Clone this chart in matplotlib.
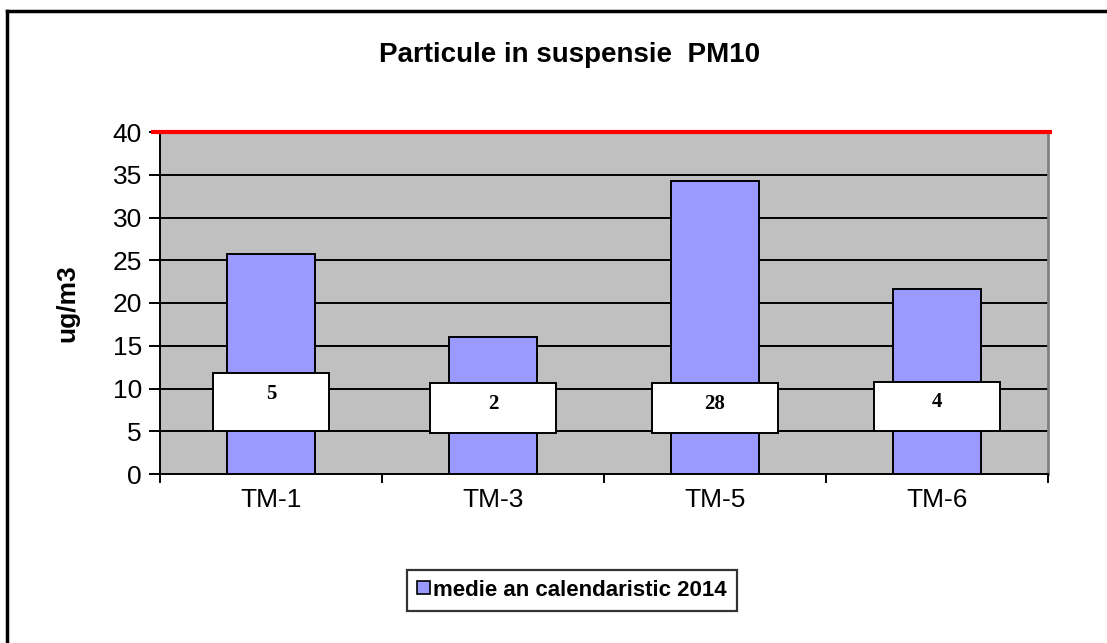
import matplotlib
matplotlib.use("Agg")
import matplotlib.pyplot as plt
from matplotlib.lines import Line2D
from matplotlib.patches import Rectangle, Patch

categories = ["TM-1", "TM-3", "TM-5", "TM-6"]
values = [25.7, 16.0, 34.3, 21.6]
label_texts = ["5", "2", "28", "4"]
limit_value = 40
yticks = [0, 5, 10, 15, 20, 25, 30, 35, 40]
series_name = "medie an calendaristic 2014"

W, H = 1107, 643
fig = plt.figure(figsize=(W / 100, H / 100), dpi=100)
fig.patch.set_facecolor("white")

def fx(px):
    return px / W

def fy(py):
    return 1 - py / H

ax = fig.add_axes([fx(160), fy(474), fx(1048) - fx(160), fy(132) - fy(474)])
ax.set_facecolor("#C0C0C0")
x = list(range(len(categories)))
ax.set_xlim(-0.5, len(categories) - 0.5)
ax.set_ylim(0, 40)

for yv in yticks[1:-1]:
    ax.axhline(yv, color="black", lw=1.4, zorder=1)

ax.bar(x, values, width=0.4, color="#9999FF", edgecolor="black", lw=1.4, zorder=2)

# data label boxes
box_w = [0.52, 0.57, 0.57, 0.57]
box_bot = [5.0, 4.8, 4.8, 5.0]
box_top = [11.8, 10.6, 10.6, 10.8]
for xi, t, bw, b0, b1 in zip(x, label_texts, box_w, box_bot, box_top):
    ax.add_patch(Rectangle((xi - bw / 2, b0), bw, b1 - b0, facecolor="white",
                           edgecolor="black", lw=1.4, zorder=3))
    ax.text(xi, b1 - 2.4, t, ha="center", va="center", fontsize=15,
            fontweight="bold", family="Liberation Serif", zorder=4)

# limit line
ax.plot([-0.54, len(categories) - 0.48], [limit_value, limit_value], color="#FF0000",
        lw=3, zorder=5, clip_on=False, solid_capstyle="butt")

ax.spines["top"].set_visible(False)
ax.spines["right"].set_color("#808080")
ax.spines["right"].set_linewidth(2)
ax.spines["left"].set_color("black")
ax.spines["left"].set_linewidth(1.4)
ax.spines["bottom"].set_color("black")
ax.spines["bottom"].set_linewidth(1.4)

ax.set_yticks(yticks)
ax.set_yticklabels([str(v) for v in yticks], fontsize=19, family="Liberation Sans")
ax.tick_params(axis="y", length=8, width=1.4, pad=5)
ax.set_xticks(x)
ax.set_xticklabels(categories, fontsize=19, family="Liberation Sans")
ax.tick_params(axis="x", length=0, pad=10)
for b in [i + 0.5 for i in range(-1, len(categories))]:
    ax.plot([b, b], [0, -0.9], color="black", lw=1.4, clip_on=False, zorder=5)

ax.set_ylabel("ug/m3", fontsize=19, fontweight="bold", family="Liberation Sans", labelpad=24)

fig.text(fx(570), fy(55), "Particule in suspensie  PM10", ha="center", va="center",
         fontsize=20, fontweight="bold", family="Liberation Sans")

# outer chart frame
fig.add_artist(Line2D([fx(7), fx(7)], [fy(11), 0], color="black", lw=2.5, transform=fig.transFigure))
fig.add_artist(Line2D([fx(7), 1], [fy(11), fy(11)], color="black", lw=2.5, transform=fig.transFigure))

handle = Patch(facecolor="#9999FF", edgecolor="black", lw=1.2)
leg = fig.legend([handle], [series_name], loc="center",
                 bbox_to_anchor=(fx(572), fy(590)), frameon=True, fancybox=False,
                 prop={"family": "Liberation Sans", "weight": "bold", "size": 16},
                 handlelength=0.55, handleheight=0.55, handletextpad=0.15,
                 borderpad=0.45, borderaxespad=0)
leg.get_frame().set_edgecolor("black")
leg.get_frame().set_linewidth(1.6)
leg._legend_box.align = "center"

fig.savefig("out.png", dpi=100)
